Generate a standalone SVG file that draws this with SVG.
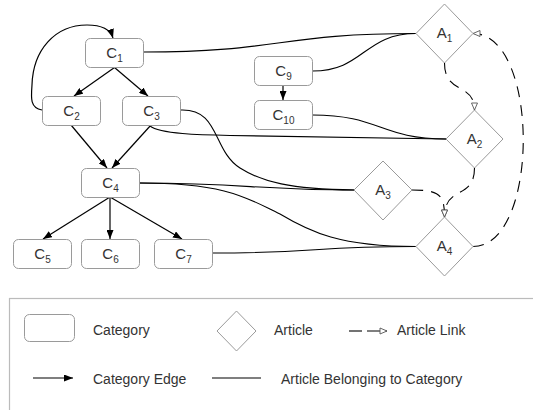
<svg xmlns="http://www.w3.org/2000/svg" width="533" height="410" viewBox="0 0 533 410">
<style>
.node rect{fill:#fff;stroke:#9a9a9a;stroke-width:1}
.art polygon{fill:#fff;stroke:#9a9a9a;stroke-width:1}
text{font-family:"Liberation Sans",Arial,sans-serif;fill:#333}
.lbl{font-size:15px;text-anchor:middle}
.sub{font-size:10px}
.leg{font-size:14px}
.edge{fill:none;stroke:#000;stroke-width:1.2;marker-end:url(#arr)}
.belong{fill:none;stroke:#000;stroke-width:1.1}
.link{fill:none;stroke:#000;stroke-width:1.1;stroke-dasharray:11 8;marker-end:url(#open)}
</style>
<defs>
<marker id="arr" viewBox="0 0 9 7" refX="9" refY="3.5" markerWidth="9" markerHeight="7" markerUnits="userSpaceOnUse" orient="auto">
<path d="M0,0 L9,3.5 L0,7 Z" fill="#000"/>
</marker>
<marker id="open" viewBox="-1 -1 9 8" refX="7" refY="3" markerWidth="9" markerHeight="8" markerUnits="userSpaceOnUse" orient="auto">
<path d="M0,0 L7,3 L0,6 Z" fill="#fff" stroke="#555" stroke-width="0.9"/>
</marker>
</defs>

<g id="connectors">
<!-- category edges -->
<path class="edge" d="M114.5,67.5 L74,96"/>
<path class="edge" d="M114.5,67.5 L148,96"/>
<path class="edge" d="M71,125 L107,168"/>
<path class="edge" d="M151,125 L112,168"/>
<path class="edge" d="M110,197 L43,239"/>
<path class="edge" d="M110,197 L110,239"/>
<path class="edge" d="M110,197 L182,239"/>
<path class="edge" d="M283,85.5 L283,100"/>
<path class="edge" d="M42,110 C30,108 31,98 32,85 C33,50 55,25 87,25 C100,25 110,28 113,38"/>
<!-- article belonging -->
<path class="belong" d="M143.5,52 C280,52 280,33.5 416,33.5"/>
<path class="belong" d="M312.5,71 C364,71 364,33.5 416,33.5"/>
<path class="belong" d="M312.5,115 C380,115 380,139 446,139"/>
<path class="belong" d="M150,126 C160,134 200,135 230,135.5 L446,139"/>
<path class="belong" d="M180,110 C220,108 212,150 240,168 C262,182 290,189 354,190"/>
<path class="belong" d="M139.5,183 C250,183 250,190 354,190"/>
<path class="belong" d="M139.5,183 C230,183 250,200 280,214 C310,232 340,246.5 416,246.5"/>
<path class="belong" d="M212.5,253 C320,253 310,246.5 416,246.5"/>
<!-- article links -->
<path class="link" d="M473,246.5 C540,246.5 540,33.5 473,33.5"/>
<path class="link" d="M444.5,63 C444.5,95 474.5,82 474.5,110"/>
<path class="link" d="M474.5,168 C474.5,200 444.5,185 444.5,217"/>
<path class="link" d="M412,190 C440,190 444.5,195 444.5,217"/>
</g>

<g id="C1" class="node"><rect x="85.5" y="38.5" width="58" height="29" rx="5"/><text class="lbl" x="114.5" y="57.5">C<tspan class="sub" dy="4">1</tspan></text></g>
<g id="C2" class="node"><rect x="42.5" y="96.5" width="58" height="29" rx="5"/><text class="lbl" x="71.5" y="115.5">C<tspan class="sub" dy="4">2</tspan></text></g>
<g id="C3" class="node"><rect x="122.5" y="96.5" width="58" height="29" rx="5"/><text class="lbl" x="151.5" y="115.5">C<tspan class="sub" dy="4">3</tspan></text></g>
<g id="C4" class="node"><rect x="81.5" y="168.5" width="58" height="29" rx="5"/><text class="lbl" x="110.5" y="187.5">C<tspan class="sub" dy="4">4</tspan></text></g>
<g id="C5" class="node"><rect x="13.5" y="239.5" width="58" height="29" rx="5"/><text class="lbl" x="42.5" y="258.5">C<tspan class="sub" dy="4">5</tspan></text></g>
<g id="C6" class="node"><rect x="81.5" y="239.5" width="58" height="29" rx="5"/><text class="lbl" x="110.5" y="258.5">C<tspan class="sub" dy="4">6</tspan></text></g>
<g id="C7" class="node"><rect x="154.5" y="239.5" width="58" height="29" rx="5"/><text class="lbl" x="183.5" y="258.5">C<tspan class="sub" dy="4">7</tspan></text></g>
<g id="C9" class="node"><rect x="254.5" y="56.5" width="58" height="29" rx="5"/><text class="lbl" x="283.5" y="75.5">C<tspan class="sub" dy="4">9</tspan></text></g>
<g id="C10" class="node"><rect x="254.5" y="100.5" width="58" height="29" rx="5"/><text class="lbl" x="283.5" y="119.5">C<tspan class="sub" dy="4">10</tspan></text></g>

<g id="A1" class="art"><polygon points="444.5,4 473,33.5 444.5,63 416,33.5"/><text class="lbl" x="444.5" y="38">A<tspan class="sub" dy="4">1</tspan></text></g>
<g id="A2" class="art"><polygon points="474.5,110 503,139 474.5,168 446,139"/><text class="lbl" x="474.5" y="143.5">A<tspan class="sub" dy="4">2</tspan></text></g>
<g id="A3" class="art"><polygon points="383,161 412,190 383,220 354,190"/><text class="lbl" x="383" y="194.5">A<tspan class="sub" dy="4">3</tspan></text></g>
<g id="A4" class="art"><polygon points="444.5,217 473,246.5 444.5,276 416,246.5"/><text class="lbl" x="444.5" y="251">A<tspan class="sub" dy="4">4</tspan></text></g>

<g id="legend">
<rect x="9.5" y="298.5" width="540" height="130" fill="#fff" stroke="#bbb" stroke-width="1.2"/>
<rect x="24.5" y="314.5" width="50" height="27" rx="5" fill="#fff" stroke="#9a9a9a"/>
<text class="leg" x="93" y="335">Category</text>
<polygon points="236.5,311 256,331 236.5,351 217,331" fill="#fff" stroke="#9a9a9a"/>
<text class="leg" x="274" y="335">Article</text>
<line x1="349" y1="331" x2="362" y2="331" stroke="#000" stroke-width="1.1"/>
<line x1="367" y1="331" x2="387" y2="331" stroke="#000" stroke-width="1" marker-end="url(#open)"/>
<text class="leg" x="397" y="335">Article Link</text>
<line x1="33" y1="378" x2="73" y2="378" stroke="#000" stroke-width="1.2" marker-end="url(#arr)"/>
<text class="leg" x="93" y="384">Category Edge</text>
<line x1="212" y1="378" x2="261" y2="378" stroke="#000" stroke-width="1.1"/>
<text class="leg" x="281" y="384">Article Belonging to Category</text>
</g>
</svg>
